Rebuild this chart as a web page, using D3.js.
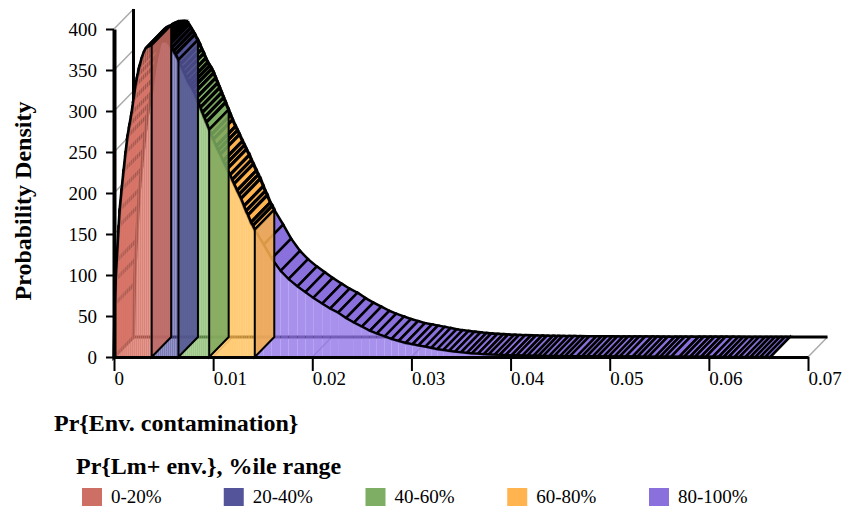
<!DOCTYPE html>
<html>
<head>
<meta charset="utf-8">
<script src="https://cdn.jsdelivr.net/npm/d3@7/dist/d3.min.js"></script>
<style>
  html, body { margin: 0; padding: 0; background: #fff; }
  svg { display: block; }
  text { font-family: "Liberation Serif", serif; fill: #000; }
</style>
</head>
<body>
<svg id="chart" width="845" height="506"></svg>
<script>
// values, one pair of arrays per percentile band
var seriesNames = ['0-20%', '20-40%', '40-60%', '60-80%', '80-100%'];
var seriesColors = ['#cd6f64', '#54549b', '#7dae64', '#ffb450', '#8a70dc'];

var redX = [0, .0001, .0002, .0003, .0005, .0006, .0008, .0010, .0012, .0014, .0016, .0018, .0020, .0022, .0024, .0026, .0028, .0030, .0032, .0034, .0036, .0038];
var redY = [0, 65, 95, 118, 160, 180, 205, 228, 250, 270, 284, 298, 315, 332, 344, 355, 364, 371, 376, 378, 379, 380];
var blueX = [.0038, .0040, .0042, .0044, .0046, .0048, .0050, .0052, .0054, .0056, .0058, .0060, .0062, .0065];
var blueY = [380, 382, 383, 384, 385, 385, 385, 385, 384, 381, 377, 373, 369, 362];
var greenX = [.0065, .0067, .0069, .0071, .0073, .0075, .0077, .0079, .0081, .0083, .0085, .0087, .0089, .0091, .0093, .0096];
var greenY = [362, 357, 351, 346, 340, 335, 331, 327, 322, 316, 310, 304, 298, 292, 286, 277];
var orangeX = [.0096, .0098, .0100, .0103, .0105, .0107, .0110, .0112, .0114, .0117, .0119, .0121, .0124, .0126, .0128, .0131, .0133, .0135, .0138, .0140, .0142];
var orangeY = [277, 271, 265, 257, 252, 247, 239, 234, 229, 222, 216, 211, 203, 198, 193, 184, 178, 173, 164, 160, 155];
var purpleX = [.0142, .0151, .0159, .0168, .0176, .0185, .0193, .0201, .0210, .0218, .0226, .0234, .0242, .0250, .0258, .0265, .0273, .0280, .0287, .0294, .0301, .0307, .0314, .0320, .0326, .0332, .0338, .0344, .0350, .0356, .0361, .0367, .0373, .0378, .0384, .0389, .0395, .0401, .0406, .0412, .0417, .0423, .0428, .0433, .0439, .0444, .0450, .0455, .0460, .0467, .0472, .0477, .0483, .0488, .0494, .0499, .0505, .0510, .0516, .0523, .0528, .0534, .0539, .0546, .0551, .0556, .0562, .0570, .0575, .0581, .0586, .0592, .0597, .0604, .0610, .0615, .0620, .0626, .0631, .0637, .0642, .0647, .0652, .0657, .0662];
var purpleY = [155, 137, 120, 105, 95, 86, 79, 72, 65, 59, 54, 47.5, 42, 37, 32, 28.5, 25, 22, 19.5, 17, 15.5, 14, 12.5, 11, 9.5, 8.4, 7.4, 6.5, 5.7, 5, 4.4, 3.9, 3.5, 3.1, 2.8, 2.5, 2.3, 2.1, 1.9, 1.75, 1.6, 1.5, 1.4, 1.3, 1.25, 1.2, 1.1, 1.05, 1, .95, .9, .85, .8, .75, .7, .68, .65, .6, .56, .52, .48, .44, .42, .4, .37, .34, .32, .3, .27, .25, .23, .21, .2, .18, .16, .15, .13, .12, .1, .09, .08, .07, .06, .05, .04];

var bandX = [redX, blueX, greenX, orangeX, purpleX];
var bandY = [redY, blueY, greenY, orangeY, purpleY];

var xTicks = [0, .01, .02, .03, .04, .05, .06, .07];
var xTickLabels = ['0', '0.01', '0.02', '0.03', '0.04', '0.05', '0.06', '0.07'];
var yTicks = [0, 50, 100, 150, 200, 250, 300, 350, 400];

var xTitle = 'Pr{Env. contamination}';
var yTitle = 'Probability Density';
var legendTitle = 'Pr{Lm+ env.}, %ile range';

//------------------------------------------------------------
// Setup
var depth = {x: 19.5, y: -20};
var x = d3.scaleLinear().domain([0, .07]).range([114, 808]);
var y = d3.scaleLinear().domain([0, 400]).range([357, 29]);
var svg = d3.select('#chart');

function poly(points) {
  return 'M' + points.map(function (p) { return p[0] + ',' + p[1]; }).join('L') + 'Z';
}

//------------------------------------------------------------
// Back walls
var back = svg.append('g');
var diagonal = function (px, py) {
  back.append('line')
      .attr('x1', px).attr('y1', py)
      .attr('x2', px + depth.x).attr('y2', py + depth.y)
      .attr('stroke', '#aaa').attr('stroke-width', 1.5);
};
yTicks.forEach(function (t) { diagonal(x(0), y(t)); });
xTicks.forEach(function (t) { diagonal(x(t), y(0)); });

back.append('line')
    .attr('x1', x(0) + depth.x).attr('y1', y(400) + depth.y)
    .attr('x2', x(0) + depth.x).attr('y2', y(0) + depth.y)
    .attr('stroke', '#000').attr('stroke-width', 3);
back.append('line')
    .attr('x1', x(0) + depth.x).attr('y1', y(0) + depth.y)
    .attr('x2', x(.07) + depth.x).attr('y2', y(0) + depth.y)
    .attr('stroke', '#000').attr('stroke-width', 3);

//------------------------------------------------------------
// Bands, last one first so the end walls sit on top of the next band
d3.range(bandX.length - 1, -1, -1).forEach(function (s) {
  var g = svg.append('g').attr('class', 'band');
  var xs = bandX[s], ys = bandY[s], color = seriesColors[s];
  var last = xs.length - 1;

  // top ribbon, one quad between each pair of points
  d3.range(last).forEach(function (i) {
    var x0 = x(xs[i]), y0 = y(ys[i]), x1 = x(xs[i + 1]), y1 = y(ys[i + 1]);
    g.append('path')
        .attr('d', poly([[x0, y0], [x1, y1], [x1 + depth.x, y1 + depth.y], [x0 + depth.x, y0 + depth.y]]))
        .attr('fill', color)
        .attr('stroke', '#000')
        .attr('stroke-width', s === 4 ? 2.5 : 3.2);
  });

  // front face, split the same way
  d3.range(last).forEach(function (i) {
    g.append('path')
        .attr('d', poly([[x(xs[i]), y(0)], [x(xs[i]), y(ys[i])], [x(xs[i + 1]), y(ys[i + 1])], [x(xs[i + 1]), y(0)]]))
        .attr('fill', d3.color(color).brighter(.15))
        .attr('fill-opacity', s === 0 ? .9 : .8);
  });

  g.append('path')
      .attr('d', d3.line().x(function (d) { return x(d); }).y(function (d, i) { return y(ys[i]); })(xs))
      .attr('fill', 'none')
      .attr('stroke', '#000')
      .attr('stroke-width', 2);

  // end wall
  var ex = x(xs[last]), ey = y(ys[last]);
  g.append('path')
      .attr('d', poly([[ex, y(0)], [ex, ey], [ex + depth.x, ey + depth.y], [ex + depth.x, y(0) + depth.y]]))
      .attr('fill', d3.color(color).darker(.1))
      .attr('fill-opacity', .88)
      .attr('stroke', '#000')
      .attr('stroke-width', 2);
});

//------------------------------------------------------------
// Axes
var xAxis = svg.append('g')
    .attr('transform', 'translate(0,' + y(0) + ')')
    .call(d3.axisBottom(x).tickValues(xTicks).tickFormat(function (d, i) { return xTickLabels[i]; }).tickSize(14).tickSizeOuter(0));
xAxis.select('.domain').attr('stroke', '#000').attr('stroke-width', 3);
xAxis.selectAll('.tick line').attr('stroke', '#000').attr('stroke-width', 2);
xAxis.selectAll('.tick text')
    .attr('text-anchor', 'start').attr('y', 15).attr('dy', '.71em')
    .style('font-family', '"Liberation Serif", serif').style('font-size', '19px');

var yAxis = svg.append('g')
    .attr('transform', 'translate(' + x(0) + ',0)')
    .call(d3.axisLeft(y).tickValues(yTicks).tickSize(8).tickSizeOuter(0));
yAxis.select('.domain').attr('stroke', '#000').attr('stroke-width', 4);
yAxis.selectAll('.tick line').attr('stroke', '#000').attr('stroke-width', 2);
yAxis.selectAll('.tick text')
    .attr('x', -17)
    .style('font-family', '"Liberation Serif", serif').style('font-size', '19px');

svg.append('text')
    .attr('x', 54).attr('y', 431)
    .style('font-size', '24px').style('font-weight', 'bold')
    .text(xTitle);
svg.append('text')
    .attr('transform', 'translate(31,201) rotate(-90)')
    .attr('text-anchor', 'middle')
    .style('font-size', '24px').style('font-weight', 'bold')
    .text(yTitle);

//------------------------------------------------------------
// Legend
svg.append('text')
    .attr('x', 76).attr('y', 474)
    .style('font-size', '24px').style('font-weight', 'bold')
    .text(legendTitle);

var legend = svg.selectAll('.legend-item')
    .data(seriesNames)
    .enter().append('g')
    .attr('class', 'legend-item')
    .attr('transform', function (d, i) { return 'translate(' + (82 + i * 141.75) + ',488)'; });
legend.append('rect')
    .attr('width', 20).attr('height', 18)
    .attr('fill', function (d, i) { return seriesColors[i]; });
legend.append('text')
    .attr('x', 29).attr('y', 15)
    .style('font-size', '19px')
    .text(function (d) { return d; });
</script>
</body>
</html>
